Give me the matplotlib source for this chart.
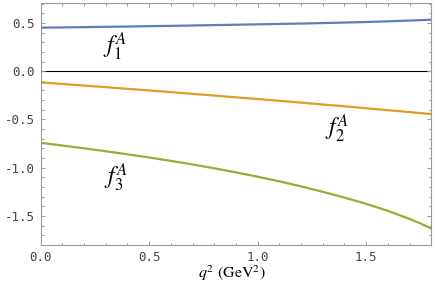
import matplotlib
matplotlib.use("Agg")
import matplotlib.pyplot as plt
from matplotlib.ticker import MultipleLocator, FormatStrFormatter

# q^2 sample points (GeV^2) and form factor values
q2 = [0.0, 0.1, 0.2, 0.3, 0.4, 0.5, 0.6, 0.7, 0.8, 0.9,
      1.0, 1.1, 1.2, 1.3, 1.4, 1.5, 1.6, 1.7, 1.75, 1.8]
f1 = [0.450, 0.453, 0.456, 0.459, 0.462, 0.466, 0.469, 0.473, 0.477, 0.481,
      0.485, 0.489, 0.493, 0.498, 0.503, 0.509, 0.516, 0.524, 0.528, 0.533]
f2 = [-0.117, -0.133, -0.149, -0.166, -0.183, -0.200, -0.217, -0.235, -0.253, -0.271,
      -0.289, -0.307, -0.326, -0.345, -0.364, -0.384, -0.404, -0.424, -0.434, -0.445]
f3 = [-0.742, -0.770, -0.799, -0.829, -0.861, -0.894, -0.929, -0.966, -1.006, -1.048,
      -1.093, -1.141, -1.193, -1.249, -1.309, -1.374, -1.446, -1.530, -1.577, -1.630]

labels = [r"$f_1^A$", r"$f_2^A$", r"$f_3^A$"]
label_pos = [(0.342, 0.253), (1.368, -0.595), (0.347, -1.10)]
colors = ["#5E81B5", "#E19C24", "#8FB032"]

plt.rcParams["mathtext.fontset"] = "stix"

fig = plt.figure(figsize=(4.36, 2.83), dpi=100)
ax = fig.add_axes([0.0933, 0.1343, 0.8959, 0.8562])

# zero line
ax.axhline(0, color="black", lw=0.8, zorder=1)
for ys, c in zip([f1, f2, f3], colors):
    ax.plot(q2, ys, color=c, lw=1.6, zorder=2)

for txt, (x, y) in zip(labels, label_pos):
    ax.text(x, y, txt, fontsize=17, ha="center", va="center")

ax.set_xlim(0, 1.8)
ax.set_ylim(-1.80, 0.709)
ax.xaxis.set_major_locator(MultipleLocator(0.5))
ax.xaxis.set_minor_locator(MultipleLocator(0.1))
ax.yaxis.set_major_locator(MultipleLocator(0.5))
ax.yaxis.set_minor_locator(MultipleLocator(0.1))
ax.xaxis.set_major_formatter(FormatStrFormatter("%.1f"))
ax.yaxis.set_major_formatter(FormatStrFormatter("%.1f"))

frame_col = "#999999"
for s in ax.spines.values():
    s.set_color(frame_col)
    s.set_linewidth(0.8)
ax.tick_params(which="both", direction="in", top=True, right=True,
               color=frame_col, width=0.7)
ax.tick_params(which="major", length=3.2, labelsize=9, labelcolor="#444444", pad=4)
ax.tick_params(which="minor", length=1.8)
for lab in ax.get_xticklabels() + ax.get_yticklabels():
    lab.set_family("DejaVu Sans Mono")

# axis title placed by hand, as in the original
fig.text(0.531, 0.036, r"$q^2\ (\mathrm{GeV}^2)$", fontsize=11.5, ha="center", va="center")

fig.savefig("out.png", dpi=100)
